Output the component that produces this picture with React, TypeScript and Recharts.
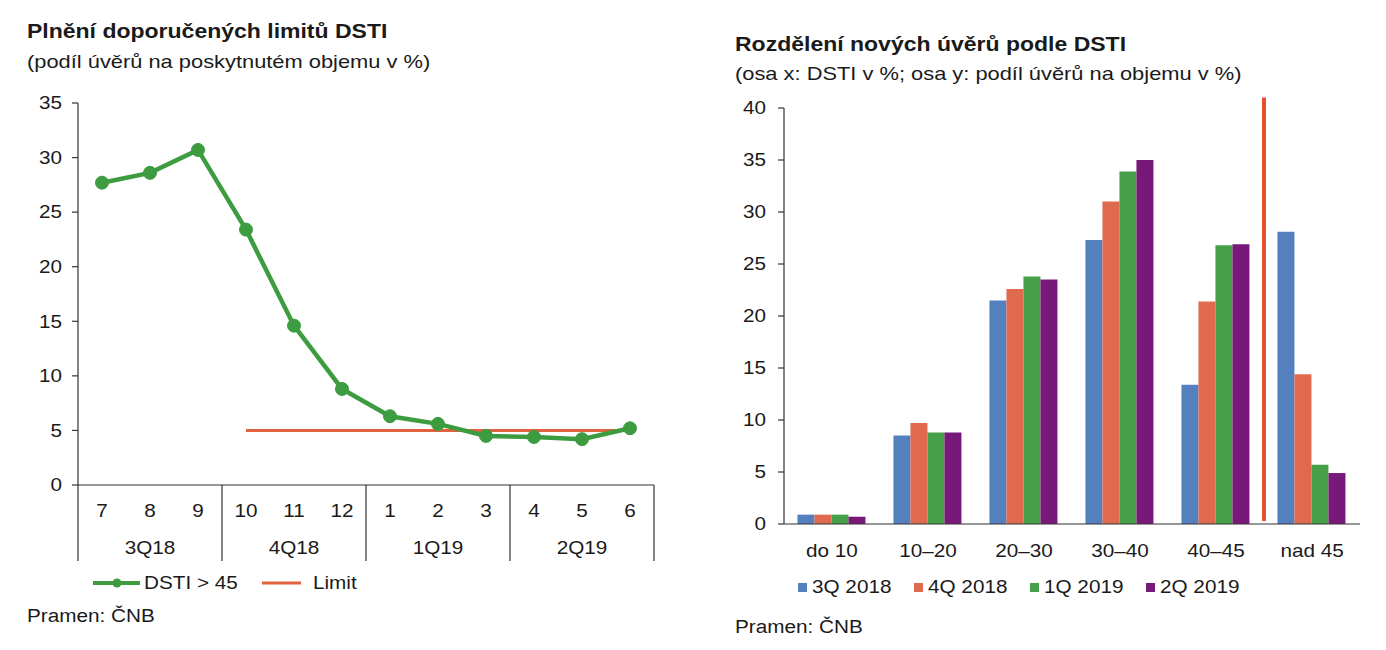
import React from 'react';
import { LineChart, Line, XAxis, YAxis, BarChart, Bar, ReferenceLine } from 'recharts';

// ---------- data: left chart ----------
const months = ['7', '8', '9', '10', '11', '12', '1', '2', '3', '4', '5', '6'];
const quarters = ['3Q18', '4Q18', '1Q19', '2Q19'];
const dstiOver45 = [27.7, 28.6, 30.7, 23.4, 14.6, 8.8, 6.3, 5.6, 4.5, 4.4, 4.2, 5.2];
const limitValues: (number | null)[] = [null, null, null, 5, 5, 5, 5, 5, 5, 5, 5, 5];
const leftYTicks = [0, 5, 10, 15, 20, 25, 30, 35];

// ---------- data: right chart ----------
const dstiBuckets = ['do 10', '10–20', '20–30', '30–40', '40–45', 'nad 45'];
const q3_2018 = [0.9, 8.5, 21.5, 27.3, 13.4, 28.1];
const q4_2018 = [0.9, 9.7, 22.6, 31.0, 21.4, 14.4];
const q1_2019 = [0.9, 8.8, 23.8, 33.9, 26.8, 5.7];
const q2_2019 = [0.7, 8.8, 23.5, 35.0, 26.9, 4.9];
const seriesNames = ['3Q 2018', '4Q 2018', '1Q 2019', '2Q 2019'];
const rightYTicks = [0, 5, 10, 15, 20, 25, 30, 35, 40];
const limitBucket = 'nad 45';

// ---------- styles ----------
const FONT = '"Liberation Sans", Arial, Helvetica, sans-serif';
const SX = 1.15;
const TEXT = '#1a1a1a';
const AXIS = '#333333';
const GREEN_LINE = '#3d9c40';
const LIMIT_RED = '#e0623f';
const VLINE_RED = '#e8502a';
const BAR_COLORS = ['#5580c0', '#df6a4d', '#46a04a', '#781878'];

const leftData = months.map((m, i) => ({ month: m, dsti: dstiOver45[i], limit: limitValues[i] }));
const rightData = dstiBuckets.map((b, i) => ({
  bucket: b,
  s0: q3_2018[i],
  s1: q4_2018[i],
  s2: q1_2019[i],
  s3: q2_2019[i],
}));

// layout
const L = { w: 700, h: 600, top: 103, left: 38, right: 46, yw: 40, xh: 115 };
const leftPlotBottom = L.h - L.xh;
const leftBand = (L.w - L.left - L.yw - L.right) / months.length;

const R = { w: 686, h: 600, top: 108, left: 44, right: 26, yw: 40, xh: 76 };
const rightPlotBottom = R.h - R.xh;

const SText = ({ x, y, anchor = 'middle', size = 18, bold = false, children }: any) => (
  <text
    transform={`translate(${x},${y}) scale(${SX},1)`}
    textAnchor={anchor}
    dy="0.35em"
    fontSize={size}
    fontWeight={bold ? 700 : 400}
    fill={TEXT}
    fontFamily={FONT}
  >
    {children}
  </text>
);

const HText = ({ x, y, size = 18, bold = false, children }: any) => (
  <div
    style={{
      position: 'absolute',
      left: x,
      top: y - size * 0.6,
      fontSize: size,
      lineHeight: `${size * 1.2}px`,
      fontWeight: bold ? 700 : 400,
      fontFamily: FONT,
      color: TEXT,
      whiteSpace: 'nowrap',
      transform: `scaleX(${SX})`,
      transformOrigin: 'left center',
    }}
  >
    {children}
  </div>
);

const YTick = (props: any) => {
  const { x, y, payload } = props;
  return <SText x={x} y={y} anchor="end">{payload.value}</SText>;
};

const MonthTick = (props: any) => {
  const { x, payload, index } = props;
  const half = leftBand / 2;
  const y0 = leftPlotBottom;
  return (
    <g>
      <SText x={x} y={y0 + 26}>{payload.value}</SText>
      {index % 3 === 1 && <SText x={x} y={y0 + 63}>{quarters[(index - 1) / 3]}</SText>}
      {index % 3 === 0 && (
        <line x1={x - half} x2={x - half} y1={y0} y2={y0 + 76} stroke={AXIS} strokeWidth={1.2} />
      )}
      {index === months.length - 1 && (
        <line x1={x + half} x2={x + half} y1={y0} y2={y0 + 76} stroke={AXIS} strokeWidth={1.2} />
      )}
    </g>
  );
};

const BucketTick = (props: any) => {
  const { x, payload } = props;
  return <SText x={x} y={rightPlotBottom + 27}>{payload.value}</SText>;
};

export default function App() {
  return (
    <div style={{ position: 'absolute', left: 0, top: 0, width: 1386, height: 650, background: '#fff', overflow: 'hidden' }}>
      {/* Left titles */}
      <HText x={27} y={31} size={20} bold>Plnění doporučených limitů DSTI</HText>
      <HText x={27} y={62} size={19}>(podíl úvěrů na poskytnutém objemu v %)</HText>

      {/* Left chart */}
      <div style={{ position: 'absolute', left: 0, top: 0 }}>
        <LineChart
          width={L.w}
          height={L.h}
          data={leftData}
          margin={{ top: L.top, right: L.right, bottom: 0, left: L.left }}
        >
          <XAxis
            dataKey="month"
            height={L.xh}
            interval={0}
            padding={{ left: leftBand / 2, right: leftBand / 2 }}
            tickLine={false}
            axisLine={{ stroke: AXIS, strokeWidth: 1.2 }}
            tick={<MonthTick />}
          />
          <YAxis
            width={L.yw}
            domain={[0, 35]}
            ticks={leftYTicks}
            tickSize={6}
            tickMargin={10}
            axisLine={{ stroke: AXIS, strokeWidth: 1.2 }}
            tickLine={{ stroke: AXIS, strokeWidth: 1.2 }}
            tick={<YTick />}
          />
          <Line
            dataKey="limit"
            stroke={LIMIT_RED}
            strokeWidth={3}
            dot={false}
            activeDot={false}
            isAnimationActive={false}
            connectNulls={false}
          />
          <Line
            dataKey="dsti"
            stroke={GREEN_LINE}
            strokeWidth={4.5}
            dot={{ r: 6.5, fill: GREEN_LINE, stroke: GREEN_LINE, strokeWidth: 1 }}
            activeDot={false}
            isAnimationActive={false}
          />
        </LineChart>
      </div>

      {/* Left legend */}
      <div style={{ position: 'absolute', left: 90, top: 573 }}>
        <svg width={60} height={20}>
          <line x1={3} x2={50} y1={10} y2={10} stroke={GREEN_LINE} strokeWidth={4} />
          <circle cx={27} cy={10} r={4.5} fill={GREEN_LINE} />
        </svg>
      </div>
      <HText x={144} y={584} size={18}>DSTI &gt; 45</HText>
      <div style={{ position: 'absolute', left: 258, top: 573 }}>
        <svg width={50} height={20}>
          <line x1={4} x2={43} y1={10} y2={10} stroke={LIMIT_RED} strokeWidth={3} />
        </svg>
      </div>
      <HText x={313} y={584} size={18}>Limit</HText>
      <HText x={27} y={617} size={18}>Pramen: ČNB</HText>

      {/* Right titles */}
      <HText x={735} y={44} size={20} bold>Rozdělení nových úvěrů podle DSTI</HText>
      <HText x={735} y={74} size={19}>(osa x: DSTI v %; osa y: podíl úvěrů na objemu v %)</HText>

      {/* Right chart */}
      <div style={{ position: 'absolute', left: 700, top: 0 }}>
        <BarChart
          width={R.w}
          height={R.h}
          data={rightData}
          margin={{ top: R.top, right: R.right, bottom: 0, left: R.left }}
          barCategoryGap="14%"
          barGap={0}
        >
          <XAxis
            dataKey="bucket"
            height={R.xh}
            interval={0}
            tickLine={false}
            axisLine={{ stroke: AXIS, strokeWidth: 1.2 }}
            tick={<BucketTick />}
          />
          <YAxis
            width={R.yw}
            domain={[0, 40]}
            ticks={rightYTicks}
            tickSize={6}
            tickMargin={12}
            axisLine={{ stroke: AXIS, strokeWidth: 1.2 }}
            tickLine={{ stroke: AXIS, strokeWidth: 1.2 }}
            tick={<YTick />}
          />
          {['s0', 's1', 's2', 's3'].map((k, i) => (
            <Bar key={k} dataKey={k} name={seriesNames[i]} fill={BAR_COLORS[i]} isAnimationActive={false} />
          ))}
          <ReferenceLine
            segment={[
              { x: limitBucket, y: 0.3 },
              { x: limitBucket, y: 41 },
            ]}
            position="start"
            ifOverflow="visible"
            stroke={VLINE_RED}
            strokeWidth={4}
          />
        </BarChart>
      </div>

      {/* Right legend */}
      {seriesNames.map((name, i) => {
        const xs = [798, 914, 1030, 1146];
        return (
          <React.Fragment key={name}>
            <div
              style={{
                position: 'absolute',
                left: xs[i],
                top: 583,
                width: 9,
                height: 9,
                background: BAR_COLORS[i],
              }}
            />
            <HText x={xs[i] + 14} y={588} size={18}>{name}</HText>
          </React.Fragment>
        );
      })}
      <HText x={735} y={628} size={18}>Pramen: ČNB</HText>
    </div>
  );
}
